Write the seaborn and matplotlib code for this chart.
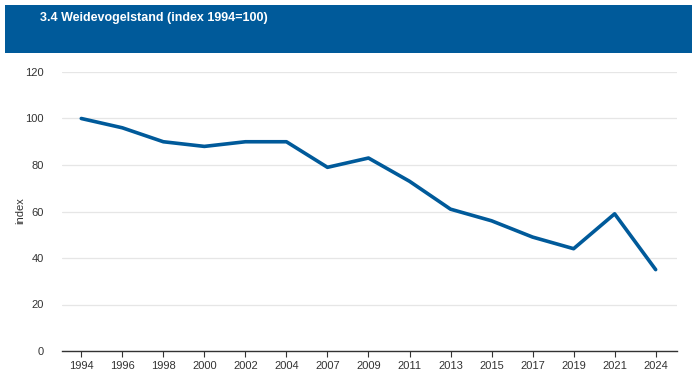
import matplotlib
matplotlib.use("Agg")
import matplotlib.pyplot as plt
import seaborn as sns
import pandas as pd
from matplotlib.patches import Rectangle

years = ["1994", "1996", "1998", "2000", "2002", "2004", "2007", "2009",
         "2011", "2013", "2015", "2017", "2019", "2021", "2024"]
index_values = [100, 96, 90, 88, 90, 90, 79, 83, 73, 61, 56, 49, 44, 59, 35]
y_ticks = [0, 20, 40, 60, 80, 100, 120]

sns.set_theme(style="white")
plt.rcParams['font.family'] = ['Liberation Sans', 'DejaVu Sans']

df = pd.DataFrame({"year": years, "index": index_values})
df["pos"] = range(len(years))

W, H = 697, 372
fig = plt.figure(figsize=(W / 100, H / 100), dpi=100)
fig.patch.set_facecolor("white")

# header band
fig.patches.append(Rectangle((5 / W, 1 - 53 / H), (692 - 5) / W, (53 - 5) / H,
                             transform=fig.transFigure, facecolor="#005A9A",
                             edgecolor="none", zorder=0))
fig.text(40 / W, 1 - 18 / H, "3.4 Weidevogelstand (index 1994=100)",
         color="white", fontsize=9, fontweight="bold", va="center", ha="left")

ax = fig.add_axes([62 / W, 1 - 351 / H, (677 - 62) / W, (351 - 72) / H])
sns.lineplot(data=df, x="pos", y="index", ax=ax, color="#005A9A", linewidth=2.6)

ax.set_xlim(-0.47, len(years) - 1 + 0.52)
ax.set_ylim(0, 120)
ax.set_xticks(range(len(years)))
ax.set_xticklabels(years)
ax.set_yticks(y_ticks)
ax.set_xlabel("")
ax.set_ylabel("")
fig.text(20 / W, 1 - 211 / H, "index", rotation=90, fontsize=8,
         color="#333333", ha="center", va="center")
ax.grid(axis="y", color="#e6e6e6", linewidth=0.9)
ax.set_axisbelow(True)
for s in ["top", "right", "left"]:
    ax.spines[s].set_visible(False)
ax.spines["bottom"].set_color("#333333")
ax.spines["bottom"].set_linewidth(1.0)
ax.tick_params(axis="x", bottom=True, length=4, width=0.8, color="#333333",
               labelsize=8, labelcolor="#333333", pad=3)
ax.tick_params(axis="y", left=False, labelsize=8, labelcolor="#333333", pad=7)

fig.savefig("out.png", dpi=100)
